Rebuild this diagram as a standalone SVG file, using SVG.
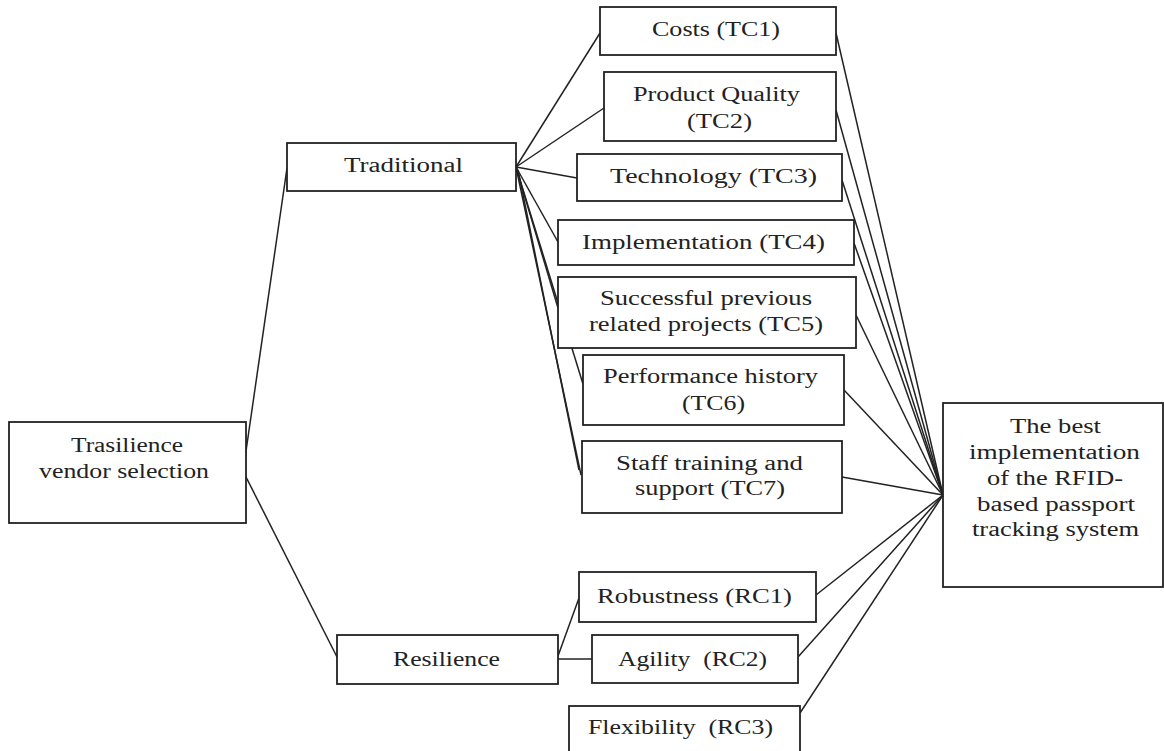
<svg xmlns="http://www.w3.org/2000/svg" width="1164" height="751" viewBox="0 0 1164 751">
<style>
.box{fill:#fff;stroke:#222;stroke-width:1.8}
.t{font-family:"Liberation Serif","Times New Roman",serif;font-size:20px;fill:#222}
.c line{stroke:#222;stroke-width:1.5}
</style>
<rect width="1164" height="751" fill="#fff"/>
<g class="c" id="connectors">
<line x1="245" y1="458" x2="287" y2="168"/>
<line x1="245" y1="475" x2="337" y2="657"/>
<line x1="516" y1="167" x2="600" y2="33"/>
<line x1="516" y1="167" x2="604" y2="108"/>
<line x1="516" y1="167" x2="577" y2="178"/>
<line x1="516" y1="167" x2="558" y2="242"/>
<line x1="516" y1="167" x2="558" y2="308"/>
<line x1="516" y1="167" x2="583" y2="384"/>
<line x1="516" y1="167" x2="581" y2="475"/>
<line x1="518" y1="170" x2="579" y2="470"/>
<line x1="558" y1="656" x2="579" y2="598"/>
<line x1="558" y1="659" x2="592" y2="659"/>
<line x1="943" y1="495" x2="836" y2="33"/>
<line x1="943" y1="495" x2="836" y2="110"/>
<line x1="943" y1="495" x2="842" y2="180"/>
<line x1="943" y1="495" x2="854" y2="243"/>
<line x1="943" y1="495" x2="856" y2="315"/>
<line x1="943" y1="495" x2="844" y2="390"/>
<line x1="943" y1="495" x2="842" y2="477"/>
<line x1="943" y1="495" x2="816" y2="595"/>
<line x1="943" y1="495" x2="798" y2="657"/>
<line x1="943" y1="495" x2="800" y2="713"/>
</g>
<g id="root">
<rect class="box" x="9" y="422" width="237" height="101"/>
<text class="t" x="71" y="452" textLength="112" lengthAdjust="spacingAndGlyphs">Trasilience</text>
<text class="t" x="39" y="478" textLength="170" lengthAdjust="spacingAndGlyphs">vendor selection</text>
</g>
<g id="traditional">
<rect class="box" x="287" y="143" width="229" height="48"/>
<text class="t" x="344" y="172" textLength="119" lengthAdjust="spacingAndGlyphs">Traditional</text>
</g>
<g id="resilience">
<rect class="box" x="337" y="635" width="221" height="49"/>
<text class="t" x="393" y="666" textLength="107" lengthAdjust="spacingAndGlyphs">Resilience</text>
</g>
<g id="tc1">
<rect class="box" x="600" y="7" width="236" height="48"/>
<text class="t" x="652" y="36" textLength="128" lengthAdjust="spacingAndGlyphs">Costs (TC1)</text>
</g>
<g id="tc2">
<rect class="box" x="604" y="72" width="232" height="69"/>
<text class="t" x="633" y="101" textLength="167" lengthAdjust="spacingAndGlyphs">Product Quality</text>
<text class="t" x="687" y="128" textLength="65" lengthAdjust="spacingAndGlyphs">(TC2)</text>
</g>
<g id="tc3">
<rect class="box" x="577" y="154" width="265" height="47"/>
<text class="t" x="610" y="183" textLength="207" lengthAdjust="spacingAndGlyphs">Technology (TC3)</text>
</g>
<g id="tc4">
<rect class="box" x="558" y="220" width="296" height="45"/>
<text class="t" x="582" y="249" textLength="243" lengthAdjust="spacingAndGlyphs">Implementation (TC4)</text>
</g>
<g id="tc5">
<rect class="box" x="558" y="277" width="298" height="71"/>
<text class="t" x="600" y="305" textLength="212" lengthAdjust="spacingAndGlyphs">Successful previous</text>
<text class="t" x="589" y="331" textLength="234" lengthAdjust="spacingAndGlyphs">related projects (TC5)</text>
</g>
<g id="tc6">
<rect class="box" x="583" y="355" width="261" height="70"/>
<text class="t" x="603" y="383" textLength="215" lengthAdjust="spacingAndGlyphs">Performance history</text>
<text class="t" x="682" y="410" textLength="63" lengthAdjust="spacingAndGlyphs">(TC6)</text>
</g>
<g id="tc7">
<rect class="box" x="582" y="441" width="260" height="72"/>
<text class="t" x="616" y="470" textLength="187" lengthAdjust="spacingAndGlyphs">Staff training and</text>
<text class="t" x="635" y="495" textLength="150" lengthAdjust="spacingAndGlyphs">support (TC7)</text>
</g>
<g id="rc1">
<rect class="box" x="579" y="572" width="237" height="50"/>
<text class="t" x="597" y="603" textLength="195" lengthAdjust="spacingAndGlyphs">Robustness (RC1)</text>
</g>
<g id="rc2">
<rect class="box" x="592" y="635" width="206" height="48"/>
<text class="t" x="618" y="666" textLength="149" lengthAdjust="spacingAndGlyphs" xml:space="preserve">Agility  (RC2)</text>
</g>
<g id="rc3">
<rect class="box" x="569" y="706" width="231" height="60"/>
<text class="t" x="588" y="734" textLength="185" lengthAdjust="spacingAndGlyphs" xml:space="preserve">Flexibility  (RC3)</text>
</g>
<g id="goal">
<rect class="box" x="943" y="403" width="220" height="184"/>
<text class="t" x="1010" y="433" textLength="91" lengthAdjust="spacingAndGlyphs">The best</text>
<text class="t" x="969" y="459" textLength="171" lengthAdjust="spacingAndGlyphs">implementation</text>
<text class="t" x="987" y="485" textLength="136" lengthAdjust="spacingAndGlyphs">of the RFID-</text>
<text class="t" x="977" y="511" textLength="158" lengthAdjust="spacingAndGlyphs">based passport</text>
<text class="t" x="972" y="536" textLength="167" lengthAdjust="spacingAndGlyphs">tracking system</text>
</g>
</svg>
